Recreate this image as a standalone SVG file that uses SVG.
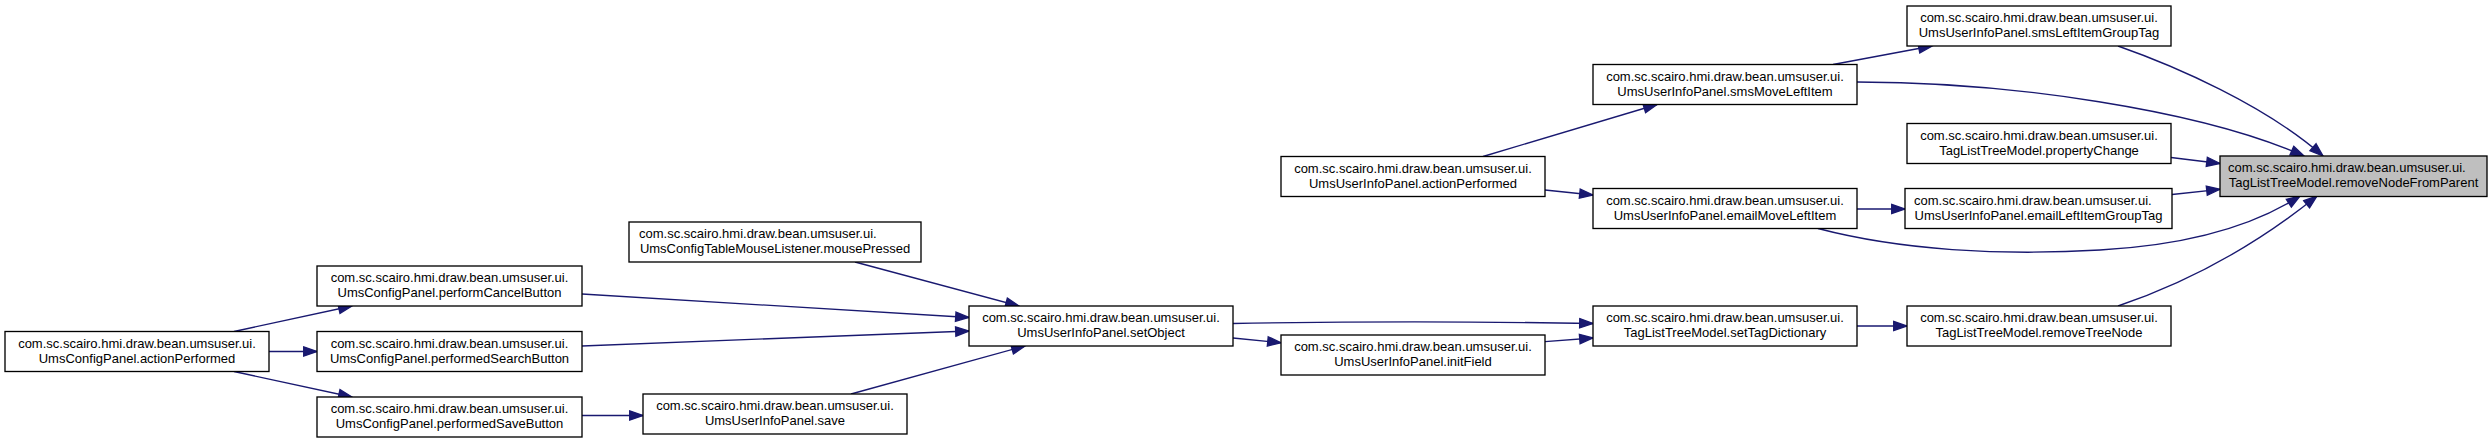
<svg xmlns="http://www.w3.org/2000/svg" width="2492" height="443" viewBox="0 0 2492 443">
<style>
  .node rect { fill: #ffffff; stroke: #000000; stroke-width: 1.33; }
  .node.sel rect { fill: #bfbfbf; }
  .node text { font-family: "Liberation Sans", Arial, Helvetica, sans-serif; font-size: 13px; fill: #000000; }
  .c { text-anchor: middle; }
  .s { text-anchor: start; }
  .edges path { fill: none; stroke: #191970; stroke-width: 1.33; marker-end: url(#ah); }
</style>
<defs>
  <marker id="ah" markerWidth="14" markerHeight="10" refX="13.3" refY="4.67" orient="auto" markerUnits="userSpaceOnUse" overflow="visible">
    <path d="M0,0 L13.3,4.67 L0,9.33 Z" fill="#191970" stroke="#191970" stroke-width="1.33"/>
  </marker>
</defs>
<rect x="0" y="0" width="2492" height="443" fill="#ffffff"/>

<g class="edges" id="connectors">
  <!-- UmsConfigPanel.actionPerformed -> ... -->
  <path d="M234,331.5 L352,306"/>
  <path d="M269,351.5 L317,351.5"/>
  <path d="M234,371.5 L352,397"/>
  <!-- performedSaveButton -> save -->
  <path d="M582,415.5 L643,415.5"/>
  <!-- -> setObject -->
  <path d="M582,294 L969,317.5"/>
  <path d="M582,346 L969,331"/>
  <path d="M855,262 L1019,306"/>
  <path d="M851,394 L1025,346"/>
  <!-- setObject -> setTagDictionary / initField -->
  <path d="M1233,323.5 C1350,321.5 1480,321.5 1593,323.5"/>
  <path d="M1233,338 L1281,342.7"/>
  <path d="M1545,341.7 L1593,338"/>
  <!-- setTagDictionary -> removeTreeNode -->
  <path d="M1857,326 L1907,326"/>
  <!-- UmsUserInfoPanel.actionPerformed -> sms/email MoveLeftItem -->
  <path d="M1483,156.5 L1657,104.5"/>
  <path d="M1545,190 L1593,195"/>
  <!-- MoveLeftItem -> GroupTag -->
  <path d="M1833,64.5 L1932,46"/>
  <path d="M1857,209 L1905,209"/>
  <!-- -> removeNodeFromParent -->
  <path d="M1857,82 C2010,82 2200,110 2304,156"/>
  <path d="M2118,46 C2175,66 2265,105 2323,156"/>
  <path d="M2171,157.5 L2220,163.5"/>
  <path d="M2172,194.5 L2220,189.3"/>
  <path d="M1818,228.5 C1900,250 2000,256 2100,250 C2190,245 2255,225 2300,196"/>
  <path d="M2118,306 C2180,285 2250,250 2317,196"/>
</g>

<g class="node sel" id="node_removeNodeFromParent">
  <rect x="2220" y="156" width="267" height="40.5"/>
  <text class="s" x="2228" y="172">com.sc.scairo.hmi.draw.bean.umsuser.ui.</text>
  <text class="c" x="2353.5" y="187">TagListTreeModel.removeNodeFromParent</text>
</g>
<g class="node" id="node_smsLeftItemGroupTag">
  <rect x="1907" y="6" width="264" height="40"/>
  <text class="c" x="2039" y="22">com.sc.scairo.hmi.draw.bean.umsuser.ui.</text>
  <text class="c" x="2039" y="37">UmsUserInfoPanel.smsLeftItemGroupTag</text>
</g>
<g class="node" id="node_smsMoveLeftItem">
  <rect x="1593" y="64.5" width="264" height="40"/>
  <text class="c" x="1725" y="80.5">com.sc.scairo.hmi.draw.bean.umsuser.ui.</text>
  <text class="c" x="1725" y="95.5">UmsUserInfoPanel.smsMoveLeftItem</text>
</g>
<g class="node" id="node_propertyChange">
  <rect x="1907" y="123.5" width="264" height="40"/>
  <text class="c" x="2039" y="139.5">com.sc.scairo.hmi.draw.bean.umsuser.ui.</text>
  <text class="c" x="2039" y="154.5">TagListTreeModel.propertyChange</text>
</g>
<g class="node" id="node_UmsUserInfoPanel_actionPerformed">
  <rect x="1281" y="156.5" width="264" height="40"/>
  <text class="c" x="1413" y="172.5">com.sc.scairo.hmi.draw.bean.umsuser.ui.</text>
  <text class="c" x="1413" y="187.5">UmsUserInfoPanel.actionPerformed</text>
</g>
<g class="node" id="node_emailMoveLeftItem">
  <rect x="1593" y="188.5" width="264" height="40"/>
  <text class="c" x="1725" y="204.5">com.sc.scairo.hmi.draw.bean.umsuser.ui.</text>
  <text class="c" x="1725" y="219.5">UmsUserInfoPanel.emailMoveLeftItem</text>
</g>
<g class="node" id="node_emailLeftItemGroupTag">
  <rect x="1905" y="188.5" width="267" height="40"/>
  <text class="s" x="1914" y="204.5">com.sc.scairo.hmi.draw.bean.umsuser.ui.</text>
  <text class="c" x="2038.5" y="219.5">UmsUserInfoPanel.emailLeftItemGroupTag</text>
</g>
<g class="node" id="node_mousePressed">
  <rect x="629" y="222" width="292" height="40"/>
  <text class="s" x="639" y="238">com.sc.scairo.hmi.draw.bean.umsuser.ui.</text>
  <text class="c" x="775" y="253">UmsConfigTableMouseListener.mousePressed</text>
</g>
<g class="node" id="node_performCancelButton">
  <rect x="317" y="266" width="265" height="40"/>
  <text class="c" x="449.5" y="282">com.sc.scairo.hmi.draw.bean.umsuser.ui.</text>
  <text class="c" x="449.5" y="297">UmsConfigPanel.performCancelButton</text>
</g>
<g class="node" id="node_setObject">
  <rect x="969" y="306" width="264" height="40"/>
  <text class="c" x="1101" y="322">com.sc.scairo.hmi.draw.bean.umsuser.ui.</text>
  <text class="c" x="1101" y="337">UmsUserInfoPanel.setObject</text>
</g>
<g class="node" id="node_setTagDictionary">
  <rect x="1593" y="306" width="264" height="40"/>
  <text class="c" x="1725" y="322">com.sc.scairo.hmi.draw.bean.umsuser.ui.</text>
  <text class="c" x="1725" y="337">TagListTreeModel.setTagDictionary</text>
</g>
<g class="node" id="node_removeTreeNode">
  <rect x="1907" y="306" width="264" height="40"/>
  <text class="c" x="2039" y="322">com.sc.scairo.hmi.draw.bean.umsuser.ui.</text>
  <text class="c" x="2039" y="337">TagListTreeModel.removeTreeNode</text>
</g>
<g class="node" id="node_UmsConfigPanel_actionPerformed">
  <rect x="5" y="331.5" width="264" height="40"/>
  <text class="c" x="137" y="347.5">com.sc.scairo.hmi.draw.bean.umsuser.ui.</text>
  <text class="c" x="137" y="362.5">UmsConfigPanel.actionPerformed</text>
</g>
<g class="node" id="node_performedSearchButton">
  <rect x="317" y="331.5" width="265" height="40"/>
  <text class="c" x="449.5" y="347.5">com.sc.scairo.hmi.draw.bean.umsuser.ui.</text>
  <text class="c" x="449.5" y="362.5">UmsConfigPanel.performedSearchButton</text>
</g>
<g class="node" id="node_initField">
  <rect x="1281" y="335" width="264" height="40"/>
  <text class="c" x="1413" y="351">com.sc.scairo.hmi.draw.bean.umsuser.ui.</text>
  <text class="c" x="1413" y="366">UmsUserInfoPanel.initField</text>
</g>
<g class="node" id="node_save">
  <rect x="643" y="394" width="264" height="40"/>
  <text class="c" x="775" y="410">com.sc.scairo.hmi.draw.bean.umsuser.ui.</text>
  <text class="c" x="775" y="425">UmsUserInfoPanel.save</text>
</g>
<g class="node" id="node_performedSaveButton">
  <rect x="317" y="397" width="265" height="40"/>
  <text class="c" x="449.5" y="413">com.sc.scairo.hmi.draw.bean.umsuser.ui.</text>
  <text class="c" x="449.5" y="428">UmsConfigPanel.performedSaveButton</text>
</g>
</svg>
